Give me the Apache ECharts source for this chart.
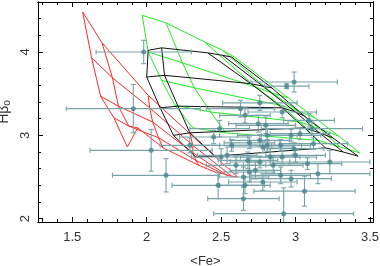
<!DOCTYPE html>
<html><head><meta charset="utf-8">
<script src="https://cdn.jsdelivr.net/npm/echarts@6/dist/echarts.min.js"></script>
<style>html,body{margin:0;padding:0;background:#fff}#c{width:380px;height:266px}</style>
</head><body><div id="c"></div>
<script>
// ---- tick values ----
const xTickLabels = [1.5, 2, 2.5, 3, 3.5];
const xMinorTicks = [1.3,1.4,1.6,1.7,1.8,1.9,2.1,2.2,2.3,2.4,2.6,2.7,2.8,2.9,3.1,3.2,3.3,3.4];
const yTickLabels = [2, 3, 4];
const yMinorTicks = [2.2,2.4,2.6,2.8,3.2,3.4,3.6,3.8,4.2,4.4];

// ---- model grids: rows of [Fe, Hbeta] vertices ----
const redGrid = [
  [[1.57,4.48],[1.70,4.11],[2.01,3.48],[2.29,3.02],[2.61,2.50]],
  [[1.63,3.93],[1.77,3.69],[2.02,3.33],[2.31,2.88],[2.57,2.51]],
  [[1.69,3.47],[1.81,3.35],[2.04,3.16],[2.31,2.79],[2.54,2.52]],
  [[1.78,3.21],[1.88,3.11],[2.08,2.97],[2.33,2.70],[2.51,2.54]],
  [[1.87,2.86],[1.94,3.09],[2.11,2.85],[2.35,2.64],[2.47,2.55]]
];
const greenGrid = [
  [[1.97,4.44],[2.13,4.35],[2.39,4.12],[2.51,4.02],[2.59,3.94]],
  [[2.01,4.00],[2.24,3.87],[2.73,3.58],[2.84,3.51],[2.95,3.45]],
  [[2.10,3.66],[2.32,3.57],[2.90,3.36],[3.02,3.29],[3.13,3.21]],
  [[2.19,3.36],[2.43,3.28],[3.03,3.16],[3.16,3.08],[3.29,2.99]],
  [[2.31,3.09],[2.53,3.03],[3.15,2.94],[3.30,2.86],[3.43,2.79]]
];
const blackGrid = [
  [[2.01,4.02],[2.10,4.05],[2.41,3.99],[2.51,3.96],[2.57,3.94]],
  [[2.00,3.70],[2.12,3.72],[2.70,3.62],[2.78,3.59],[2.84,3.57]],
  [[2.09,3.33],[2.21,3.35],[2.91,3.33],[3.00,3.28],[3.06,3.23]],
  [[2.18,3.00],[2.29,3.03],[3.06,3.09],[3.16,3.03],[3.25,2.97]],
  [[2.33,2.74],[2.46,2.75],[3.20,2.85],[3.32,2.80],[3.42,2.75]]
];

// ---- observed galaxies ----
const obsFe = [1.98,1.91,2.03,2.13,2.48,2.65,2.92,3.06,2.99,2.94,
  2.76,2.63,2.66,2.91,2.75,2.49,2.45,2.29,3.09,3.11,
  3.03,2.81,2.81,2.97,3.12,3.00,2.78,2.57,2.50,2.91,
  3.23,3.08,3.15,2.97,2.78,2.90,2.85,2.80,2.90,2.83,
  2.99,2.54,2.60,2.68,2.69,2.65,2.73,2.76,2.76,2.69,2.66];
const obsHb = [4.00,3.32,2.82,2.52,2.40,2.24,2.06,2.33,3.64,3.59,
  3.39,3.32,3.24,3.28,3.14,3.08,2.98,2.88,3.18,3.08,
  3.02,3.00,2.88,3.00,2.90,2.76,2.86,2.88,2.74,2.74,
  2.68,2.66,2.54,2.48,2.44,2.52,2.64,3.12,2.88,2.74,
  2.84,2.76,2.64,2.70,2.56,2.50,2.58,2.68,2.94,2.91,2.40];
const obsFeErr = [0.32,0.45,0.41,0.36,0.31,0.24,0.47,0.34,0.29,0.15,
  0.25,0.23,0.17,0.23,0.20,0.20,0.23,0.20,0.17,0.34,
  0.20,0.20,0.23,0.20,0.23,0.20,0.20,0.27,0.20,0.23,
  0.27,0.23,0.35,0.27,0.23,0.20,0.20,0.20,0.20,0.20,
  0.20,0.20,0.20,0.20,0.17,0.17,0.17,0.20,0.20,0.17,0.17];
const obsHbErr = [0.14,0.29,0.25,0.20,0.16,0.14,0.31,0.18,0.12,0.03,
  0.09,0.10,0.09,0.07,0.10,0.10,0.08,0.09,0.08,0.08,
  0.07,0.07,0.07,0.07,0.07,0.08,0.07,0.07,0.10,0.08,
  0.14,0.07,0.12,0.10,0.10,0.10,0.10,0.10,0.07,0.10,
  0.07,0.10,0.10,0.10,0.12,0.12,0.10,0.07,0.07,0.07,0.10];

const FONT = 'Liberation Sans';
const barColor = '#78a3a9';
const ptColor = '#4a858d';

function gridSeries(grid, color) {
  const out = [];
  grid.forEach(row => out.push(row));
  for (let j = 0; j < grid[0].length; j++) out.push(grid.map(r => r[j]));
  return out.map(d => ({
    type: 'line', data: d, showSymbol: false, silent: true, animation: false,
    lineStyle: { color: color, width: 1 }, z: 2, clip: true
  }));
}

const obsData = obsFe.map((v, i) => [v, obsHb[i], obsFeErr[i], obsHbErr[i]]);

function axisCommon(extra) {
  return Object.assign({
    type: 'value', splitLine: { show: false },
    axisLine: { show: true, onZero: false, lineStyle: { color: '#000', width: 1 } },
    axisLabel: { show: false }
  }, extra);
}

const xMin = 1.27, xMax = 3.52, yMin = 1.96, yMax = 4.6;
const chart = echarts.init(document.getElementById('c'), null, { renderer: 'canvas' });
chart.setOption({
  animation: false,
  backgroundColor: '#fff',
  grid: { left: 38, right: 7, top: 2, bottom: 44, containLabel: false, outerBoundsMode: 'none' },
  xAxis: [
    axisCommon({ min: xMin, max: xMax, position: 'bottom',
      axisTick: { inside: true, length: 5, customValues: xTickLabels, lineStyle: { color: '#000' } },
      axisLabel: { show: true, customValues: xTickLabels, fontSize: 13, color: '#333', fontFamily: FONT, margin: 9 },
      name: '<Fe>', nameLocation: 'middle', nameGap: 33, nameMoveOverlap: false,
      nameTextStyle: { fontSize: 13, color: '#333', fontFamily: FONT } }),
    axisCommon({ min: xMin, max: xMax, position: 'bottom',
      axisTick: { inside: true, length: 3, customValues: xMinorTicks, lineStyle: { color: '#000' } } }),
    axisCommon({ min: xMin, max: xMax, position: 'top',
      axisTick: { inside: true, length: 5, customValues: xTickLabels, lineStyle: { color: '#000' } } }),
    axisCommon({ min: xMin, max: xMax, position: 'top',
      axisTick: { inside: true, length: 3, customValues: xMinorTicks, lineStyle: { color: '#000' } } })
  ],
  yAxis: [
    axisCommon({ min: yMin, max: yMax, position: 'left',
      axisTick: { inside: true, length: 5, customValues: yTickLabels, lineStyle: { color: '#000' } },
      axisLabel: { show: true, customValues: yTickLabels, rotate: 90, fontSize: 13, color: '#333', fontFamily: FONT, margin: 6 },
      name: '{a|Hβ}{b|o}', nameLocation: 'middle', nameGap: 26, nameMoveOverlap: false,
      nameTextStyle: { color: '#333', fontFamily: FONT,
        rich: { a: { fontSize: 14, color: '#333', fontFamily: FONT },
                b: { fontSize: 10, color: '#333', fontFamily: FONT, padding: [6, 0, 0, 0] } } } }),
    axisCommon({ min: yMin, max: yMax, position: 'left',
      axisTick: { inside: true, length: 3, customValues: yMinorTicks, lineStyle: { color: '#000' } } }),
    axisCommon({ min: yMin, max: yMax, position: 'right',
      axisTick: { inside: true, length: 5, customValues: yTickLabels, lineStyle: { color: '#000' } } }),
    axisCommon({ min: yMin, max: yMax, position: 'right',
      axisTick: { inside: true, length: 3, customValues: yMinorTicks, lineStyle: { color: '#000' } } })
  ],
  series: [
    ...gridSeries(redGrid, '#ff2a2a'),
    ...gridSeries(greenGrid, '#22ee22'),
    ...gridSeries(blackGrid, '#111111'),
    {
      type: 'custom', data: obsData, z: 3, clip: true, silent: true,
      renderItem: function (params, api) {
        const x = api.value(0), y = api.value(1), ex = api.value(2), ey = api.value(3);
        const pL = api.coord([x - ex, y]), pR = api.coord([x + ex, y]);
        const pB = api.coord([x, y - ey]), pT = api.coord([x, y + ey]);
        const c = 2.5;
        const st = { stroke: barColor, lineWidth: 1.1, fill: null };
        const ln = (x1, y1, x2, y2) => ({ type: 'line', shape: { x1, y1, x2, y2 }, style: st });
        return { type: 'group', children: [
          ln(pL[0], pL[1], pR[0], pR[1]),
          ln(pL[0], pL[1] - c, pL[0], pL[1] + c),
          ln(pR[0], pR[1] - c, pR[0], pR[1] + c),
          ln(pB[0], pB[1], pT[0], pT[1]),
          ln(pB[0] - c, pB[1], pB[0] + c, pB[1]),
          ln(pT[0] - c, pT[1], pT[0] + c, pT[1])
        ]};
      }
    },
    {
      type: 'scatter', data: obsData.map(d => [d[0], d[1]]), symbol: 'circle', symbolSize: 5,
      itemStyle: { color: ptColor }, z: 4, silent: true
    }
  ]
});
</script></body></html>
